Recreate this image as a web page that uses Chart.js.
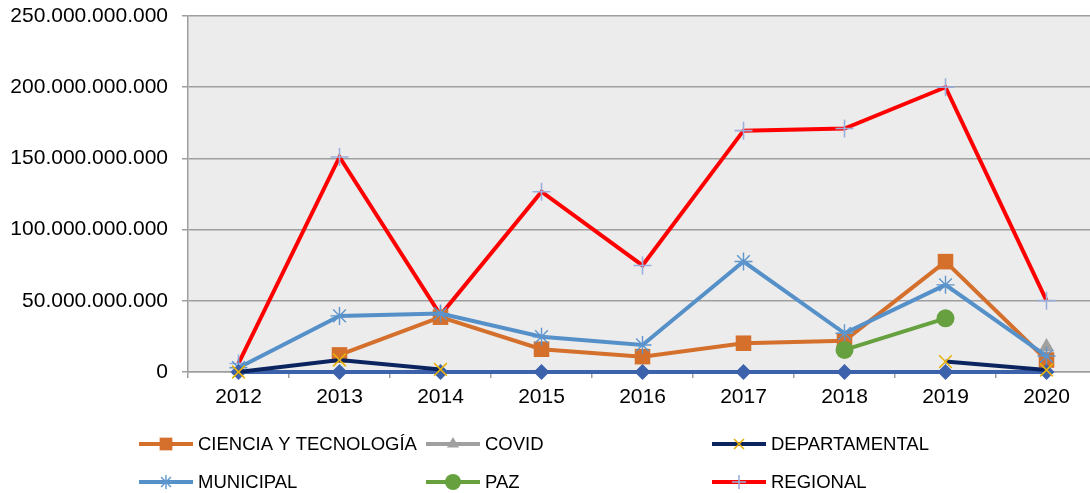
<!DOCTYPE html>
<html><head><meta charset="utf-8">
<script src="https://cdn.jsdelivr.net/npm/chart.js@4.4.1/dist/chart.umd.min.js"></script>
<style>
html,body{margin:0;padding:0;background:#fff;overflow:hidden;width:1090px;height:493px;}
#c{position:absolute;left:0;top:0;}
</style></head><body>
<canvas id="c" width="1108" height="493" style="width:1108px;height:493px;"></canvas>
<script>
// ---- data ----
const years = ['2012','2013','2014','2015','2016','2017','2018','2019','2020'];
const cienciaTecnologia = [null, 12e9, 38.5e9, 16e9, 10.8e9, 20.2e9, 22e9, 77.5e9, 8.4e9];
const covid            = [null, null, null, null, null, null, null, null, 17.5e9];
const departamental    = [0, 8.4e9, 1.8e9, null, null, null, null, 7.3e9, 1.4e9];
const municipal        = [3e9, 39.4e9, 41e9, 24.8e9, 19e9, 77.6e9, 27.2e9, 61.2e9, 11.2e9];
const paz              = [null, null, null, null, null, null, 15.5e9, 37.7e9, null];
const regional         = [6e9, 151e9, 40e9, 126.6e9, 74.8e9, 169.5e9, 171e9, 200e9, 50.1e9];
const sinLegenda       = [0, 0, 0, 0, 0, 0, 0, 0, 0];
const yTicks = [0, 50e9, 100e9, 150e9, 200e9, 250e9];

const FONT = '"Liberation Sans", Arial, sans-serif';

function fmt(v){ return String(Math.round(v)).replace(/\B(?=(\d{3})+(?!\d))/g, '.'); }

const datasets = [
  {label:'CIENCIA Y TECNOLOGÍA', data:cienciaTecnologia, borderColor:'#D4702C', backgroundColor:'#D4702C',
   pointStyle:'rect', pointRadius:11, pointBorderWidth:0, pointBackgroundColor:'#D4702C', order:6},
  {label:'COVID', data:covid, borderColor:'#A0A0A0', backgroundColor:'#A0A0A0',
   pointStyle:'triangle', pointRadius:9, pointBorderWidth:0, pointBackgroundColor:'#A0A0A0', order:5},
  {label:'DEPARTAMENTAL', data:departamental, borderColor:'#0B2460', backgroundColor:'#0B2460',
   pointStyle:'crossRot', pointRadius:9, pointBorderWidth:1.6, pointBorderColor:'#E9B10C', order:1},
  {label:'MUNICIPAL', data:municipal, borderColor:'#5590C8', backgroundColor:'#5590C8',
   pointStyle:'star', pointRadius:9, pointBorderWidth:1.4, pointBorderColor:'#5E95CC', order:4},
  {label:'PAZ', data:paz, borderColor:'#66A03F', backgroundColor:'#66A03F',
   pointStyle:'circle', pointRadius:9, pointBorderWidth:0, pointBackgroundColor:'#66A03F', order:3},
  {label:'REGIONAL', data:regional, borderColor:'#FF0000', backgroundColor:'#FF0000',
   pointStyle:'cross', pointRadius:9, pointBorderWidth:1.6, pointBorderColor:'#9BAFDC', order:7},
  {label:'', data:sinLegenda, borderColor:'#3D62AC', backgroundColor:'#3D62AC',
   pointStyle:'rectRot', pointRadius:8, pointBorderWidth:0, pointBackgroundColor:'#3D62AC', order:2}
];
datasets.forEach(d => { d.borderWidth = 4; d.tension = 0; d.spanGaps = false; d.fill = false; d.clip = false; d.pointHoverRadius = d.pointRadius; });

const legendLayout = [
  {i:0, x:139, y:444}, {i:1, x:426, y:444}, {i:2, x:712, y:444},
  {i:3, x:139, y:482}, {i:4, x:426, y:482}, {i:5, x:712, y:482}
];

const bgPlugin = {
  id:'plotBg',
  beforeDraw(chart){
    const {ctx, chartArea:a} = chart;
    ctx.save(); ctx.fillStyle = '#ECECEC';
    ctx.fillRect(a.left, a.top, a.right - a.left, a.bottom - a.top);
    ctx.restore();
  }
};

const legendPlugin = {
  id:'gridLegend',
  afterDraw(chart){
    const ctx = chart.ctx;
    const H = Chart.helpers;
    ctx.save();
    legendLayout.forEach(L => {
      const d = chart.data.datasets[L.i];
      ctx.strokeStyle = d.borderColor; ctx.lineWidth = 4; ctx.lineCap = 'butt';
      ctx.beginPath(); ctx.moveTo(L.x, L.y); ctx.lineTo(L.x + 54, L.y); ctx.stroke();
      ctx.fillStyle = d.pointBackgroundColor || d.borderColor;
      ctx.strokeStyle = d.pointBorderColor || d.borderColor;
      ctx.lineWidth = d.pointBorderWidth || 1;
      const r = d.pointStyle === 'rect' ? 9 : (d.pointStyle === 'circle' ? 8 : 7);
      H.drawPoint(ctx, {pointStyle:d.pointStyle, radius:r, rotation:0, borderWidth:d.pointBorderWidth}, L.x + 27, L.y);
      ctx.fillStyle = '#000'; ctx.font = '18.5px ' + FONT; ctx.textBaseline = 'middle'; ctx.textAlign = 'left';
      ctx.fillText(d.label, L.x + 59, L.y + 1);
    });
    ctx.restore();
  }
};

new Chart(document.getElementById('c'), {
  type:'line',
  data:{labels:years, datasets:datasets},
  plugins:[bgPlugin, legendPlugin],
  options:{
    responsive:false, animation:false, devicePixelRatio:1,
    layout:{padding:{top:16, right:0, left:0, bottom:0}},
    plugins:{legend:{display:false}, tooltip:{enabled:false}},
    scales:{
      x:{
        offset:true,
        grid:{display:true, offset:true, drawOnChartArea:false, drawTicks:true, tickLength:6, color:'#9E9E9E', lineWidth:1.5},
        border:{display:true, color:'#9E9E9E', width:1.5},
        ticks:{color:'#000', font:{family:FONT, size:21}, padding:7, maxRotation:0, autoSkip:false},
        afterFit(s){ s.height = 121; s.paddingLeft = 0; s.paddingRight = 0; }
      },
      y:{
        min:0, max:250e9,
        afterBuildTicks(s){ s.ticks = yTicks.map(v => ({value:v})); },
        grid:{color:'#9E9E9E', lineWidth:1.5, drawTicks:true, tickLength:6},
        border:{display:true, color:'#9E9E9E', width:1.5},
        ticks:{color:'#000', font:{family:FONT, size:21}, padding:14, callback:v => fmt(v)},
        afterFit(s){ s.width = 188; s.paddingTop = 0; s.paddingBottom = 0; }
      }
    }
  }
});
</script>
</body></html>
